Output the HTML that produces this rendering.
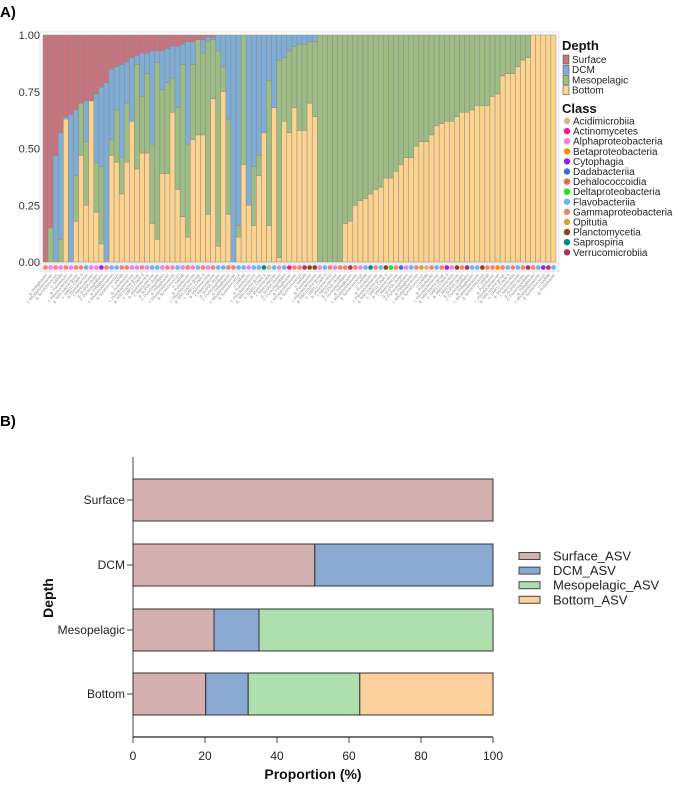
<!DOCTYPE html>
<html><head><meta charset="utf-8">
<style>
html,body{margin:0;padding:0;background:#fff;}
svg{display:block;font-family:"Liberation Sans","DejaVu Sans",sans-serif;}
</style></head>
<body>
<svg id="root" width="678" height="786" viewBox="0 0 678 786" xmlns="http://www.w3.org/2000/svg">
<text x="0" y="17" font-size="15" font-weight="bold">A)</text>
<text x="0" y="426" font-size="15" font-weight="bold">B)</text>
<g id="chartA"></g>
<g id="legendA"></g>
<g id="chartB"></g>
</svg>
<script>
// ---------- Panel A data (cumulative proportions per ASV) ----------
const bottomTop = [0,0,0,0,.63,0,.18,.47,.25,.71,.22,.08,0,.47,.44,.30,.44,.62,.41,.48,.48,.17,.10,.39,.39,.66,.32,.20,.11,.54,.56,.56,.21,.72,.07,.75,.21,0,.11,.43,.25,.16,.38,.57,.16,.68,.02,.62,.57,.68,.58,.58,.70,.64,
0,0,0,0,0,
.17,.18,.25,.27,.28,.30,.32,.33,.37,.37,.40,.43,.46,.46,.51,.53,.53,.56,.60,.61,.62,.62,.64,.66,.66,.67,.69,.69,.69,.73,.74,.82,.83,.83,.86,.89,.90,
1,1,1,1,1];
const mesoTop = [0,.15,0,.10,.63,0,.38,.70,.53,.71,.44,.42,0,.54,.67,.46,.70,.62,.87,.73,.83,.52,.88,.76,.79,.81,.68,.87,.52,.87,.98,.92,.97,.98,.93,.86,.63,0,.16,1,.25,.42,.47,.57,.80,.68,.89,.90,.93,.95,.96,.96,.97,.97,
1,1,1,1,1,
1,1,1,1,1,1,1,1,1,1,1,1,1,1,1,1,1,1,1,1,1,1,1,1,1,1,1,1,1,1,1,1,1,1,1,1,1,
1,1,1,1,1];
const dcmTop = [0,.15,.47,.57,.64,.65,.67,.70,.71,.71,.74,.77,.79,.85,.86,.87,.88,.90,.91,.92,.92,.93,.93,.93,.94,.95,.95,.96,.97,.97,.98,.98,.99,.99,1,1,1,1,1,1,1,1,1,1,1,1,1,1,1,1,1,1,1,1,
1,1,1,1,1,
1,1,1,1,1,1,1,1,1,1,1,1,1,1,1,1,1,1,1,1,1,1,1,1,1,1,1,1,1,1,1,1,1,1,1,1,1,
1,1,1,1,1];
const classCodes = "GAGAGAGGFAACGFFGGAAGAFFAGAFAGAFGAGFFGGFFAFFTNFAFMGGVPPAFGAGGVGAFTGFPEGBAFGONGFGCAPGVFFPGGRGFGFGVGFCVF";
const yTicksA = ["0.00","0.25","0.50","0.75","1.00"];
const depthNames = ["Surface","DCM","Mesopelagic","Bottom"];
const classNames = ["Acidimicrobiia","Actinomycetes","Alphaproteobacteria","Betaproteobacteria","Cytophagia","Dadabacteriia","Dehalococcoidia","Deltaproteobacteria","Flavobacteriia","Gammaproteobacteria","Opitutia","Planctomycetia","Saprospiria","Verrucomicrobiia"];
const classKeys = "NMARCBDEFGOPTV";
const genusNames = ["g. Pelagibacter","f. Rhodobacteraceae","g. Synechococcus","o. SAR86","g. Polaribacter","f. Flavobacteriaceae","g. NS5 marine group","o. SAR11 Clade II","g. Marinimicrobia","f. Nitrincolaceae","g. SUP05 cluster","o. Puniceispirillales"];

// ---------- Panel B data ----------
const depthCats = ["Surface","DCM","Mesopelagic","Bottom"];
const surfAsv = [100,50.5,22.5,20.2];
const dcmAsv = [0,49.5,12.5,11.8];
const mesoAsv = [0,0,65,31];
const botAsv = [0,0,0,37];
const xTicksB = [0,20,40,60,80,100];
const seriesB = ["Surface_ASV","DCM_ASV","Mesopelagic_ASV","Bottom_ASV"];

const NS="http://www.w3.org/2000/svg";
function mk(tag, attrs, parent){const e=document.createElementNS(NS,tag);for(const k in attrs)e.setAttribute(k,attrs[k]);parent.appendChild(e);return e;}

// ---------- Panel A ----------
const A=document.getElementById('chartA');
const ax0=43, ax1=556, ay0=262, ay1=35;
const n=bottomTop.length;
const pitch=(ax1-ax0)/n;
const xA=i=>ax0+i*pitch;
const yA=v=>ay0-v*(ay0-ay1);
const depthCol={Surface:"#c9737f",DCM:"#7eaed6",Mesopelagic:"#9dbd84",Bottom:"#fdd38e"};
const classCol={N:"#d8b48a",M:"#ff1493",A:"#ee82ee",R:"#ff8c00",C:"#9b1ff0",B:"#4169e1",D:"#f2624a",E:"#19e619",F:"#6cb4f2",G:"#f5826f",O:"#d6a520",P:"#8b4513",T:"#008b80",V:"#b03060"};
let bg=mk('rect',{x:ax0-3,y:ay1-3,width:ax1-ax0+6,height:ay0-ay1+6,fill:"#fff",stroke:"#e6e6e6","stroke-width":1},A);


yTicksA.forEach((t,i)=>{
  const v=i*0.25;
  const tx=mk('text',{x:40,y:yA(v)+4,"font-size":11,"text-anchor":"end",fill:"#333"},A);
  tx.textContent=t;
  
  
});
for(let i=0;i<n;i++){
  const segs=[["Bottom",0,bottomTop[i]],["Mesopelagic",bottomTop[i],mesoTop[i]],["DCM",mesoTop[i],dcmTop[i]],["Surface",dcmTop[i],1]];
  segs.forEach(s=>{
    if(s[2]-s[1]<=0.0001)return;
    const r=mk('rect',{x:xA(i),y:yA(s[2]),width:pitch,height:yA(s[1])-yA(s[2]),fill:depthCol[s[0]],stroke:"#8a8a8a","stroke-width":0.5},A);
    
    
  });
}
let band=mk('rect',{x:ax0-3,y:263,width:ax1-ax0+6,height:9,fill:"#f0f0f0",stroke:"#dddddd","stroke-width":0.5},A);


for(let i=0;i<n;i++){
  const c=classCodes[i%classCodes.length];
  const d=mk('circle',{cx:xA(i)+pitch/2,cy:267.5,r:2.3,fill:classCol[c]},A);
  
  
  const lx=xA(i)+pitch/2+2, ly=275;
  const t=mk('text',{x:lx,y:ly,"font-size":4,"text-anchor":"end",fill:"#888",transform:`rotate(-50 ${lx} ${ly})`},A);
  t.textContent=genusNames[i%genusNames.length];
  
  
}
// Legend A
const L=document.getElementById('legendA');
let lt=mk('text',{x:562,y:50,"font-size":13,"font-weight":"bold",fill:"#111"},L);lt.textContent="Depth";


depthNames.forEach((d,i)=>{
  const y=55+i*10.2;
  const r=mk('rect',{x:563,y:y,width:6,height:9,fill:depthCol[d],stroke:"#555","stroke-width":0.6},L);
  
  
  const t=mk('text',{x:572,y:y+8,"font-size":10,fill:"#222"},L);t.textContent=d;
  
  
});
let ct=mk('text',{x:562,y:113,"font-size":13,"font-weight":"bold",fill:"#111"},L);ct.textContent="Class";


classNames.forEach((c,i)=>{
  const y=121+i*10.1;
  const ci=mk('circle',{cx:567,cy:y,r:3.2,fill:classCol[classKeys[i]]},L);
  
  
  const t=mk('text',{x:573,y:y+3.5,"font-size":10,fill:"#222"},L);t.textContent=c;
  
  
});

// ---------- Panel B ----------
const B=document.getElementById('chartB');
const bx0=133, bx1=493, byTop=457, byBase=737;
const xB=v=>bx0+v/100*(bx1-bx0);
const bandTops=[479,544,609,673], bh=42;
const colB=["#d5b0b0","#8aa9d3","#aedfae","#fdcf9c"];
let ya=mk('line',{x1:bx0,y1:byTop,x2:bx0,y2:byBase,stroke:"#444","stroke-width":1},B);

let xa=mk('line',{x1:bx0,y1:byBase,x2:bx1,y2:byBase,stroke:"#222","stroke-width":1.2},B);

depthCats.forEach((cat,i)=>{
  const vals=[surfAsv[i],dcmAsv[i],mesoAsv[i],botAsv[i]];
  let acc=0;
  vals.forEach((v,k)=>{
    if(v<=0)return;
    const r=mk('rect',{x:xB(acc),y:bandTops[i],width:xB(acc+v)-xB(acc),height:bh,fill:colB[k],stroke:"#333","stroke-width":1},B);
    
    
    acc+=v;
  });
  const cy=bandTops[i]+bh/2;
  const tk=mk('line',{x1:bx0-6,y1:cy,x2:bx0,y2:cy,stroke:"#444","stroke-width":1},B);
  
  const t=mk('text',{x:bx0-8,y:cy+4,"font-size":12,"text-anchor":"end",fill:"#222"},B);
  t.textContent=cat;
  
  
});
xTicksB.forEach(v=>{
  const tk=mk('line',{x1:xB(v),y1:byBase,x2:xB(v),y2:byBase+6,stroke:"#444","stroke-width":1},B);
  
  const t=mk('text',{x:xB(v),y:byBase+23,"font-size":12,"text-anchor":"middle",fill:"#222"},B);
  t.textContent=v;
  
  
});
let xt=mk('text',{x:xB(50),y:779,"font-size":14,"font-weight":"bold","text-anchor":"middle",fill:"#111"},B);
xt.textContent="Proportion (%)";

let ytt=mk('text',{x:53,y:598,"font-size":14,"font-weight":"bold","text-anchor":"middle",fill:"#111",transform:"rotate(-90 53 598)"},B);
ytt.textContent="Depth";

seriesB.forEach((s,k)=>{
  const cy=556+k*14.6;
  const r=mk('rect',{x:519,y:cy-3.5,width:21,height:7,fill:colB[k],stroke:"#444","stroke-width":1},B);
  
  const t=mk('text',{x:553,y:cy+4.5,"font-size":13,fill:"#222"},B);
  t.textContent=s;
  
});
</script>
</body></html>
